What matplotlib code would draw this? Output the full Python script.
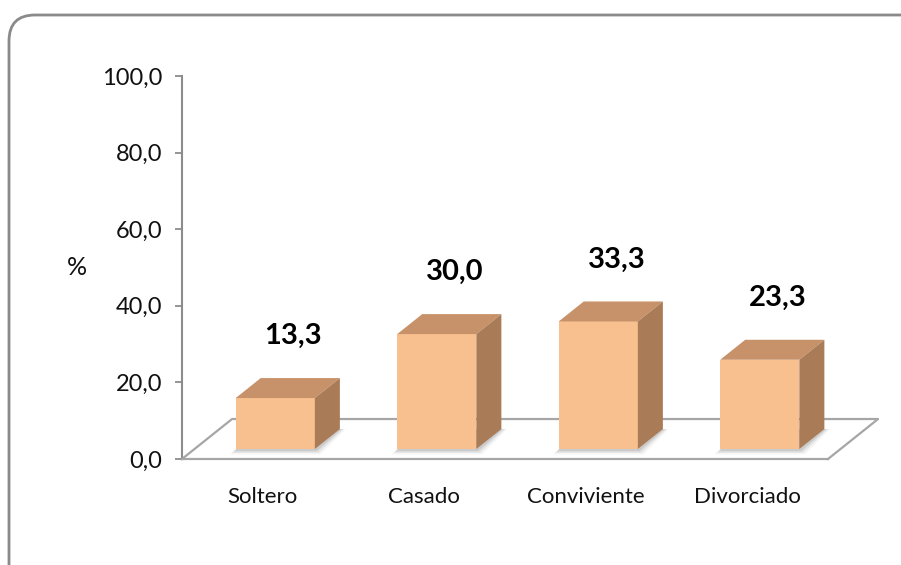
import matplotlib.pyplot as plt
from matplotlib.patches import Polygon, FancyBboxPatch
from matplotlib.transforms import IdentityTransform

categorias = ['Soltero', 'Casado', 'Conviviente', 'Divorciado']
porcentajes = [13.3, 30.0, 33.3, 23.3]
ticks_y = [0, 20, 40, 60, 80, 100]
etiquetas_y = ['0,0', '20,0', '40,0', '60,0', '80,0', '100,0']

plt.rcParams['font.family'] = ['Lato', 'DejaVu Sans']

frente = '#F9C08F'
techo = '#C79269'
lado = '#A97B57'
gris = '#8C8C8C'
texto = '#111111'

fig = plt.figure(figsize=(9.01, 5.65), dpi=100)
ax = fig.add_axes([182 / 901, 106 / 565, 646 / 901, 383 / 565])
ax.set_xlim(-0.5, 3.5)
ax.set_ylim(0, 100)

# profundidad del piso (unidades de datos)
pdx, pdy = 0.31, 10.44
# la barra ocupa la mitad central del fondo
fdx, fdy = pdx * 0.25, pdy * 0.25
bdx, bdy = pdx * 0.5, pdy * 0.5
ancho = 0.49

# piso
ax.plot([-0.5, -0.5 + pdx, 3.5 + pdx, 3.5], [0, pdy, pdy, 0],
        color='#A6A6A6', lw=1.6, clip_on=False, zorder=1)

for i, v in enumerate(porcentajes):
    x0 = i - ancho / 2 + fdx
    x1 = x0 + ancho
    b = fdy
    t = b + v
    # sombra suave
    for k, a in enumerate([0.10, 0.07, 0.04]):
        s = 0.012 * (k + 1)
        ax.add_patch(Polygon([(x0 - s, b - 0.6 - k * 0.4), (x1 + s, b - 0.6 - k * 0.4),
                              (x1 + bdx + s, b + bdy), (x0 + bdx, b + bdy)],
                             closed=True, facecolor='black', edgecolor='none',
                             alpha=a, zorder=2, clip_on=False))
    ax.add_patch(Polygon([(x0, b), (x1, b), (x1, t), (x0, t)], closed=True,
                         facecolor=frente, edgecolor='none', zorder=4))
    ax.add_patch(Polygon([(x0, t), (x1, t), (x1 + bdx, t + bdy), (x0 + bdx, t + bdy)],
                         closed=True, facecolor=techo, edgecolor='none', zorder=4))
    ax.add_patch(Polygon([(x1, b), (x1 + bdx, b + bdy), (x1 + bdx, t + bdy), (x1, t)],
                         closed=True, facecolor=lado, edgecolor='none', zorder=4))
    ax.text(i + 0.19, v + 18.8, f'{v:.1f}'.replace('.', ','), ha='center', va='center',
            fontsize=21, fontweight='bold', color='black', zorder=5)

ax.set_xticks(range(len(categorias)))
ax.set_xticklabels(categorias, fontsize=16, color=texto)
ax.tick_params(axis='x', length=0, pad=20)
ax.set_yticks(ticks_y)
ax.set_yticklabels(etiquetas_y, fontsize=17, color=texto)
ax.tick_params(axis='y', length=5, width=1.3, color=gris, direction='out', pad=9)

ax.set_ylabel('%', rotation=0, fontsize=18, color=texto, va='center', ha='center')
ax.yaxis.set_label_coords(-0.163, 0.5)

for lado_eje in ['top', 'right']:
    ax.spines[lado_eje].set_visible(False)
ax.spines['left'].set_color(gris)
ax.spines['left'].set_linewidth(1.5)
ax.spines['bottom'].set_color('#A6A6A6')
ax.spines['bottom'].set_linewidth(1.6)
ax.patch.set_alpha(0)

# marco redondeado del gráfico
marco = FancyBboxPatch((9, -60), 960, 610, boxstyle='round,pad=0,rounding_size=26',
                       transform=IdentityTransform(), facecolor='none',
                       edgecolor='#8A8A8A', lw=2.0, zorder=0)
fig.patches.append(marco)

fig.savefig('out.png', dpi=100)
